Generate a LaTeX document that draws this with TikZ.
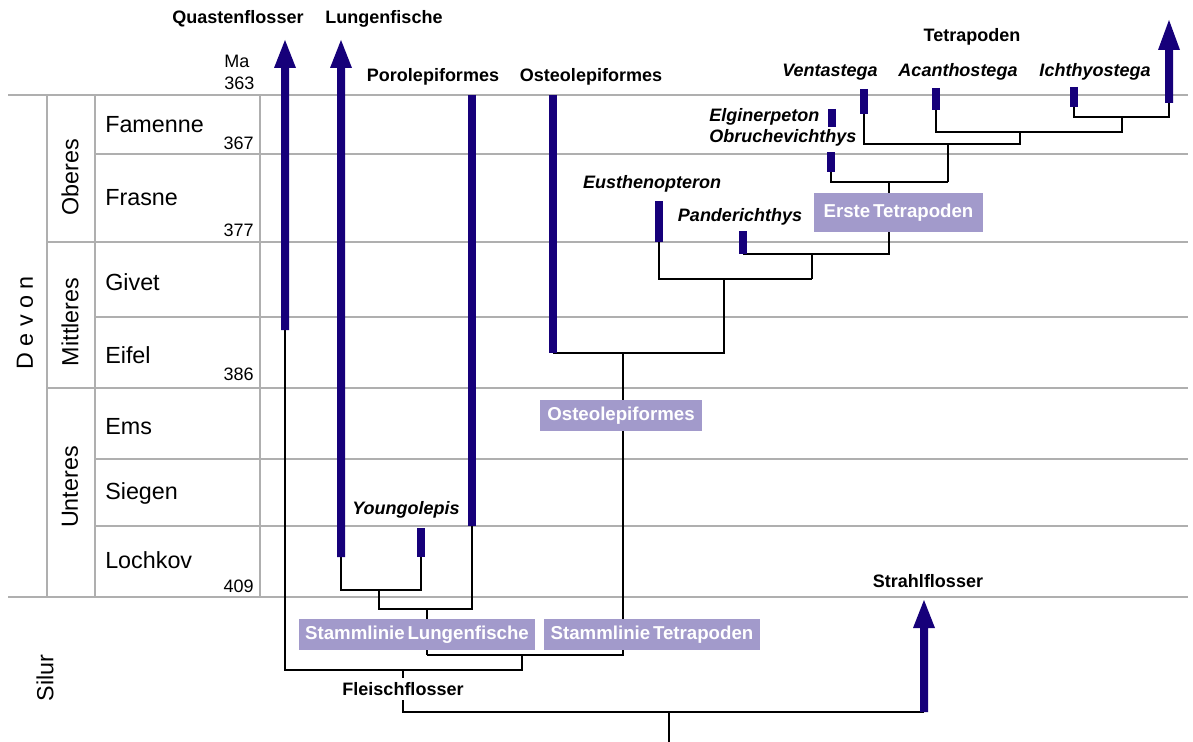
\documentclass[tikz,border=0pt]{standalone}
\usepackage{fontspec}
\setmainfont{Liberation Sans}
\definecolor{navy}{RGB}{22,0,122}
\definecolor{lav}{RGB}{162,154,203}
\definecolor{gridc}{RGB}{175,175,175}
\newcommand\myUpArrow[5]{% name, x, bottom, tip, headbase
  \coordinate (#1B) at (#2,#3);
  \coordinate (#1T) at (#2,#4);
  \fill[navy] (#2-4,#3) -- (#2-4,#5) -- (#2-11,#5) -- (#1T) -- (#2+11,#5) -- (#2+4,#5) -- (#2+4,#3) -- cycle;}
\begin{document}
\begin{tikzpicture}[x=0.75pt,y=-0.75pt,
  gridline/.style={draw=gridc,line width=1.1pt},
  tree/.style={draw=black,line width=1.9pt},
  bar/.style={draw=navy,line width=6pt},
  lbl/.style={font=\bfseries\fontsize{13.5}{16}\selectfont,inner sep=0},
  spc/.style={font=\bfseries\itshape\fontsize{13.5}{16}\selectfont,inner sep=0},
  stage/.style={font=\fontsize{17.5}{20}\selectfont,anchor=west,inner sep=0},
  era/.style={font=\fontsize{17.5}{20}\selectfont,rotate=90,inner sep=0},
  num/.style={font=\fontsize{13.5}{16}\selectfont,inner sep=0},
  box/.style={fill=lav,text=white,font=\bfseries\fontsize{14}{16}\selectfont,inner sep=0},
]
\useasboundingbox (0,0) rectangle (1193,742);
% grid
\draw[gridline] (8,95) -- (1188,95);
\draw[gridline] (95,154) -- (1188,154);
\draw[gridline] (47,242) -- (1188,242);
\draw[gridline] (95,317) -- (1188,317);
\draw[gridline] (47,388) -- (1188,388);
\draw[gridline] (95,459) -- (1188,459);
\draw[gridline] (95,526) -- (1188,526);
\draw[gridline] (8,597) -- (1188,597);
\draw[gridline] (47,95) -- (47,597);
\draw[gridline] (95,95) -- (95,597);
\draw[gridline] (260,95) -- (260,597);
% era labels
\node[era] (devon) at (25,323) {D e v o n};
\node[era] (oberes) at (70,177) {Oberes};
\node[era] (mittl) at (70,322) {Mittleres};
\node[era] (unter) at (70,487) {Unteres};
\node[era] (silur) at (45,678) {Silur};
\node[stage] (fam) at (105,125) {Famenne};
\node[stage] (fra) at (105,198) {Frasne};
\node[stage] (giv) at (105,282) {Givet};
\node[stage] (eif) at (105,355) {Eifel};
\node[stage] (ems) at (105,427) {Ems};
\node[stage] (sie) at (105,493) {Siegen};
\node[stage] (loc) at (105,560) {Lochkov};
\node[num,anchor=west] (ma) at (224,61) {Ma};
\node[num,anchor=west] (n363) at (224,83) {363};
\node[num,anchor=east] (n367) at (254,143) {367};
\node[num,anchor=east] (n377) at (254,230) {377};
\node[num,anchor=east] (n386) at (254,374) {386};
\node[num,anchor=east] (n409) at (254,586) {409};
% labels
\node[lbl] (quast) at (238,19) {Quastenflosser};
\node[lbl] (lungl) at (384,19) {Lungenfische};
\node[lbl] (porol) at (433,77) {Porolepiformes};
\node[lbl] (ostl) at (591,77) {Osteolepiformes};
\node[lbl] (tetl) at (972,37) {Tetrapoden};
\node[spc] (venl) at (830,72) {Ventastega};
\node[spc] (acal) at (958,72) {Acanthostega};
\node[spc] (ichl) at (1095,72) {Ichthyostega};
\node[spc,anchor=west] (elgl) at (709,117) {Elginerpeton};
\node[spc,anchor=west] (obrl) at (709,138) {Obruchevichthys};
\node[spc] (eusl) at (652,184) {Eusthenopteron};
\node[spc] (panl) at (740,217) {Panderichthys};
\node[spc] (youl) at (406,510) {Youngolepis};
\node[lbl] (strl) at (928,581) {Strahlflosser};
% bars
\coordinate (poroT) at (472,95); \coordinate (poroB) at (472,526);
\coordinate (osteT) at (553,95); \coordinate (osteB) at (553,353);
\coordinate (youT) at (421,528); \coordinate (youB) at (421,557);
\coordinate (eusT) at (659,201); \coordinate (eusB) at (659,242);
\coordinate (panT) at (743,231); \coordinate (panB) at (743,254);
\coordinate (obrT) at (831,152); \coordinate (obrB) at (831,172);
\coordinate (elgT) at (832,109); \coordinate (elgB) at (832,127);
\coordinate (venT) at (864,89); \coordinate (venB) at (864,114);
\coordinate (acaT) at (936,88); \coordinate (acaB) at (936,110);
\coordinate (ichT) at (1074,87); \coordinate (ichB) at (1074,107);
% tree lines
\draw[tree] (venB) -- (864,144) -- (1020,144) -- (1020,132);
\draw[tree] (acaB) -- (936,132) -- (1122,132) -- (1122,117);
\draw[tree] (ichB) -- (1074,117) -- (1169,117) -- (1169,103);
\draw[tree] (948,144) -- (948,182);
\draw[tree] (obrB) -- (831,182) -- (948,182);
\draw[tree] (889,182) -- (889,254) -- (panB);
\draw[tree] (812,254) -- (812,279);
\draw[tree] (eusB) -- (659,279) -- (812,279);
\draw[tree] (724,279) -- (724,353) -- (osteB);
\draw[tree] (623,353) -- (623,655) -- (427,655);
\draw[tree] (youB) -- (421,590) -- (341,590) -- (341,557);
\draw[tree] (379,590) -- (379,609) -- (472,609) -- (poroB);
\draw[tree] (427,609) -- (427,655);
\draw[tree] (522,655) -- (522,670) -- (285,670) -- (285,330);
\draw[tree] (403,670) -- (403,712) -- (924,712);
\draw[tree] (669,712) -- (669,742);
% bars drawn
\draw[bar] (poroT) -- (poroB);
\draw[bar] (osteT) -- (osteB);
\draw[bar] (youT) -- (youB);
\draw[bar] (eusT) -- (eusB);
\draw[bar] (panT) -- (panB);
\draw[bar] (obrT) -- (obrB);
\draw[bar] (elgT) -- (elgB);
\draw[bar] (venT) -- (venB);
\draw[bar] (acaT) -- (acaB);
\draw[bar] (ichT) -- (ichB);
% arrows
\myUpArrow{qa}{285}{330}{40}{68}
\myUpArrow{la}{341}{557}{40}{68}
\myUpArrow{ta}{1169}{103}{20}{50}
\myUpArrow{sa}{924}{712}{600}{628}
% boxes
\node[box,minimum width=126.75pt,minimum height=29.25pt] (erste) at (898.5,212.5) {Erste\hspace{0.15em}Tetrapoden};
\node[box,minimum width=121.5pt,minimum height=23.25pt] (ostbox) at (621,415.5) {Osteolepiformes};
\node[box,minimum width=177pt,minimum height=23.25pt] (stlu) at (417,634.5) {Stammlinie\hspace{0.15em}Lungenfische};
\node[box,minimum width=162pt,minimum height=23.25pt] (stte) at (652,634.5) {Stammlinie\hspace{0.15em}Tetrapoden};
\node[lbl,fill=white,inner sep=3pt] (fleisch) at (403,689) {Fleischflosser};
\end{tikzpicture}
\end{document}
